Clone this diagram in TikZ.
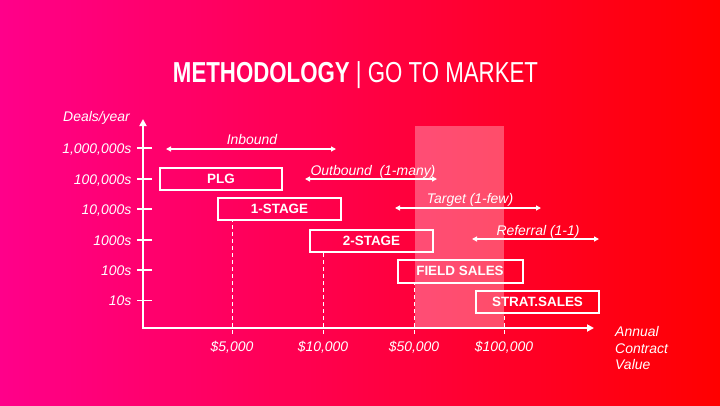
\documentclass[tikz,border=0pt]{standalone}
\usepackage{fontspec}
\setmainfont{Liberation Sans}
\usetikzlibrary{arrows.meta}
\definecolor{bgleft}{RGB}{255,0,138}
\definecolor{bgmid}{RGB}{255,4,62}
\definecolor{bgright}{RGB}{255,0,0}
\begin{document}
\begin{tikzpicture}[x=1bp,y=-1bp,
  lbl/.style={text=white,font=\fontsize{14}{16.5}\selectfont\itshape,inner sep=0pt},
  stagebox/.style={draw=white,line width=2bp,text=white,
    font=\fontsize{13.5}{16}\selectfont\bfseries,
    minimum width=123bp,minimum height=22bp,inner sep=0pt},
  axisline/.style={white,line width=2bp,{Triangle[length=7bp,width=7bp]}-{Triangle[length=7bp,width=7bp]}},
  span/.style={white,line width=1.3bp,{Triangle[length=5bp,width=5bp]}-{Triangle[length=5bp,width=5bp]}},
  guide/.style={white,line width=1bp,dash pattern=on 4bp off 3bp},
  tick/.style={white,line width=1.6bp},
]
\useasboundingbox (0,0) rectangle (720,405);
% background gradient
\shade[left color=bgleft,middle color=bgmid,right color=bgright] (0,0) rectangle (720,405);

% highlighted price band
\fill[white,opacity=0.3] (415,126) rectangle (504,329);

% title
\node[text=white,xscale=0.77,anchor=base,inner sep=0pt,font=\fontsize{29}{32}\selectfont]
  (title) at (355.5,82) {\bfseries METHODOLOGY\mdseries\ | GO TO MARKET};

% axes
\coordinate (origin) at (143,328);
\coordinate (ytop) at (143,119);
\coordinate (xend) at (594,328);
\draw[axisline] (ytop) -- (origin) -- (xend);

\node[lbl,anchor=base west] (ylabel) at (63,121) {Deals/year};
\node[lbl,anchor=north west,align=left] (xlabel) at (615,326.5) {Annual\\Contract\\Value};

% y ticks and labels
\foreach \name/\yy/\txt in {t6/148/{1,000,000s},t5/179/{100,000s},t4/209/{10,000s},
                            t3/240/{1000s},t2/270/{100s},t1/300.5/{10s}}{
  \coordinate (\name a) at (137,\yy);
  \coordinate (\name b) at (152,\yy);
  \draw[tick] (\name a) -- (\name b);
  \node[lbl,anchor=base east] (\name l) at (131.5,\yy+5) {\txt};
}

% segment boxes
\node[stagebox,minimum width=122bp] (plg) at (221,178.5) {PLG};
\node[stagebox] (stage1) at (279.5,209) {1-STAGE};
\node[stagebox] (stage2) at (371.5,241) {2-STAGE};
\node[stagebox,minimum width=125bp,minimum height=23bp] (field) at (460,271) {FIELD SALES};
\node[stagebox] (strat) at (537.5,302) {STRAT.SALES};

% price guides and labels
\coordinate (g5) at (232,334);
\coordinate (g10) at (323,334);
\coordinate (g50) at (414,334);
\coordinate (g100) at (504,334);
\draw[guide] (g5) -- (g5 |- stage1.south);
\draw[guide] (g10) -- (g10 |- stage2.south);
\draw[guide] (g50) -- (g50 |- field.south);
\draw[guide] (g100) -- (g100 |- strat.south);
\node[lbl,anchor=base] (p5) at (232,351) {\$5,000};
\node[lbl,anchor=base] (p10) at (323,351) {\$10,000};
\node[lbl,anchor=base] (p50) at (414,351) {\$50,000};
\node[lbl,anchor=base] (p100) at (504,351) {\$100,000};

% motion ranges
\coordinate (inL) at (166,149);  \coordinate (inR) at (336,149);
\coordinate (outL) at (305,179); \coordinate (outR) at (437,179);
\coordinate (tgL) at (395,208);  \coordinate (tgR) at (541,208);
\coordinate (rfL) at (472,239);  \coordinate (rfR) at (599,239);
\draw[span] (inL) -- (inR);
\draw[span] (outL) -- (outR);
\draw[span] (tgL) -- (tgR);
\draw[span] (rfL) -- (rfR);
\node[lbl,anchor=base] (inbound) at (252,144) {Inbound};
\node[lbl,anchor=base] (outbound) at (373,175) {Outbound\ \ (1-many)};
\node[lbl,anchor=base] (target) at (470,203) {Target (1-few)};
\node[lbl,anchor=base] (referral) at (538,235) {Referral (1-1)};
\end{tikzpicture}
\end{document}
